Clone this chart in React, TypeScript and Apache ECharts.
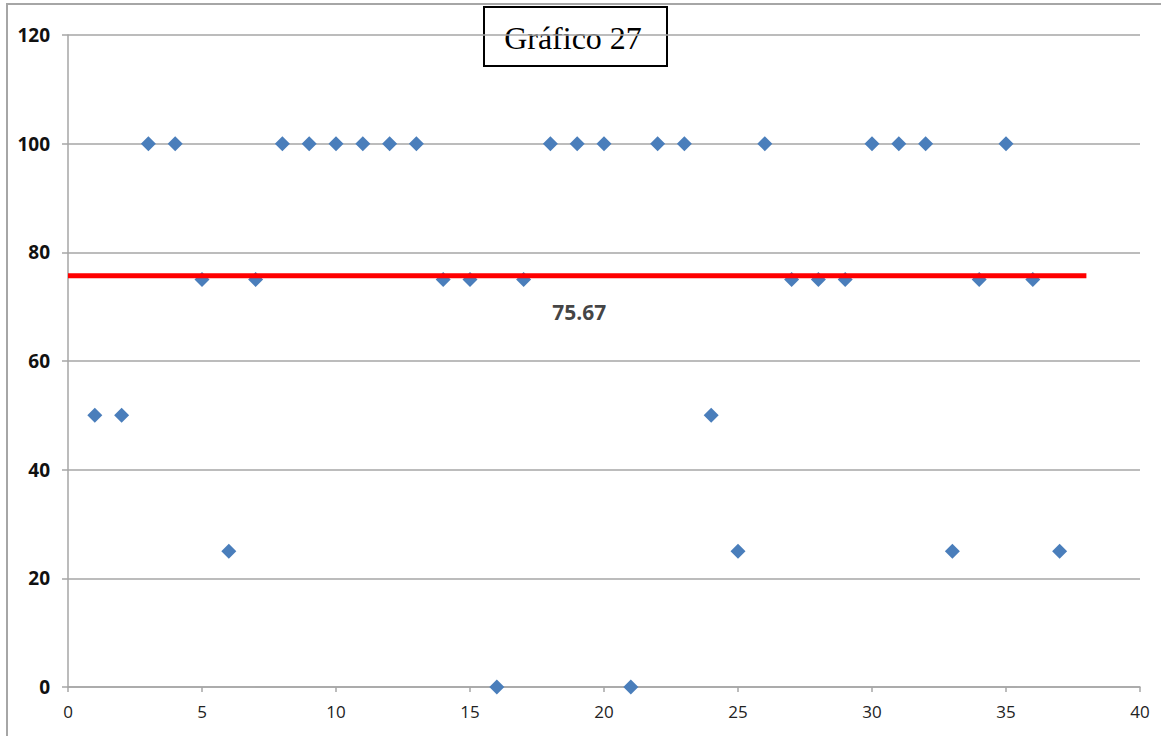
import React, { useEffect, useRef } from "react";
import * as echarts from "echarts";

// Observation index and score for each answer
const xValues = [1, 2, 3, 4, 5, 6, 7, 8, 9, 10, 11, 12, 13, 14, 15, 16, 17, 18, 19, 20, 21, 22, 23, 24, 25, 26, 27, 28, 29, 30, 31, 32, 33, 34, 35, 36, 37];
const yValues = [50, 50, 100, 100, 75, 25, 75, 100, 100, 100, 100, 100, 100, 75, 75, 0, 75, 100, 100, 100, 0, 100, 100, 50, 25, 100, 75, 75, 75, 100, 100, 100, 25, 75, 100, 75, 25];

// Mean line
const meanValue = 75.67;
const meanLineX = [0, 38];
const meanLabelX = 19;

const chartTitle = "Gráfico 27";

export default function App() {
  const ref = useRef<HTMLDivElement>(null);

  useEffect(() => {
    if (!ref.current) return;
    const chart = echarts.init(ref.current, null, { renderer: "svg" });
    const axisGray = "#a6a6a6";
    chart.setOption({
      animation: false,
      backgroundColor: "#ffffff",
      grid: { left: 68, top: 35, right: 21, bottom: 49 },
      xAxis: {
        type: "value",
        min: 0,
        max: 40,
        interval: 5,
        axisLine: { show: true, lineStyle: { color: axisGray, width: 1.5 } },
        axisTick: { show: true, inside: false, length: 5, lineStyle: { color: axisGray, width: 1.5 } },
        splitLine: { show: false },
        axisLabel: { color: "#222", fontSize: 17, fontFamily: "Open Sans", margin: 16 },
      },
      yAxis: {
        type: "value",
        min: 0,
        max: 120,
        interval: 20,
        axisLine: { show: true, lineStyle: { color: axisGray, width: 1.5 } },
        axisTick: { show: true, inside: false, length: 6, lineStyle: { color: axisGray, width: 1.5 } },
        splitLine: { show: true, lineStyle: { color: axisGray, width: 1.5 } },
        axisLabel: { color: "#111", fontSize: 19, fontWeight: "bold", fontFamily: "Open Sans", margin: 18 },
      },
      series: [
        {
          type: "scatter",
          symbol: "diamond",
          symbolSize: 15,
          itemStyle: { color: "#4a7ebb", opacity: 1 },
          data: xValues.map((x, i) => [x, yValues[i]]),
          z: 3,
        },
        {
          type: "line",
          data: meanLineX.map((x) => [x, meanValue]),
          symbol: "none",
          lineStyle: { color: "#ff0000", width: 5 },
          z: 4,
        },
        {
          type: "scatter",
          symbolSize: 0,
          data: [[meanLabelX, meanValue]],
          label: {
            show: true,
            position: "inside",
            offset: [2, 36],
            formatter: () => meanValue.toFixed(2),
            color: "#111",
            fontSize: 21,
            fontWeight: "bold",
            fontFamily: "Open Sans",
          },
          z: 5,
        },
      ],
      graphic: [
        {
          type: "rect",
          shape: { x: 7, y: 4, width: 1200, height: 800 },
          style: { fill: "none", stroke: axisGray, lineWidth: 2 },
          silent: true,
          z: 0,
        },
        {
          type: "group",
          z: 100,
          children: [
            {
              type: "rect",
              shape: { x: 484, y: 7, width: 183, height: 59 },
              style: { fill: "#ffffff", stroke: "#000000", lineWidth: 2 },
            },
            {
              type: "text",
              x: 573,
              y: 38,
              style: {
                text: chartTitle,
                fill: "#000",
                fontSize: 32,
                fontFamily: "Liberation Serif",
                align: "center",
                verticalAlign: "middle",
              },
            },
          ],
        },
      ],
    });
    return () => chart.dispose();
  }, []);

  return (
    <div
      ref={ref}
      style={{ position: "fixed", left: 0, top: 0, width: 1161, height: 736 }}
    />
  );
}
